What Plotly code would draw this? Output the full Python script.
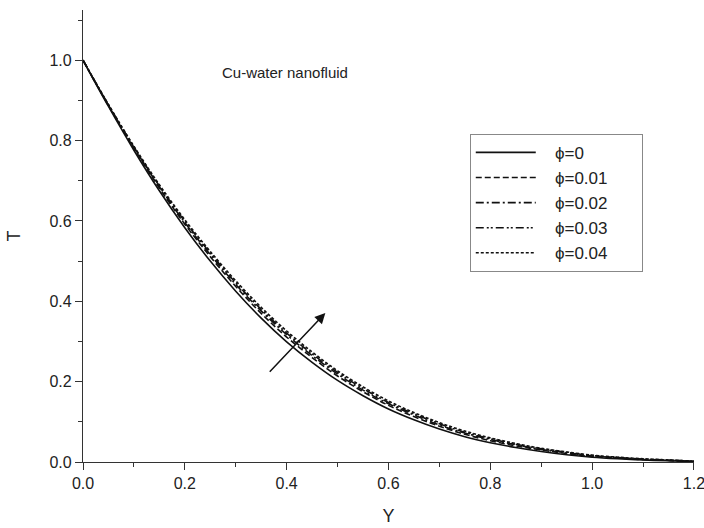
import plotly.graph_objects as go

Y = [0.00, 0.05, 0.10, 0.15, 0.20, 0.25, 0.30, 0.35, 0.40, 0.45, 0.50, 0.55, 0.60,
     0.65, 0.70, 0.75, 0.80, 0.85, 0.90, 0.95, 1.00, 1.05, 1.10, 1.15, 1.20]

T_phi0 = [1.000, 0.885, 0.776, 0.675, 0.583, 0.500, 0.425, 0.358, 0.299, 0.248, 0.203, 0.165, 0.132,
          0.105, 0.082, 0.063, 0.048, 0.036, 0.026, 0.018, 0.012, 0.008, 0.005, 0.003, 0.001]
T_phi001 = [1.000, 0.887, 0.781, 0.682, 0.592, 0.511, 0.437, 0.370, 0.311, 0.260, 0.214, 0.175, 0.141,
            0.113, 0.089, 0.069, 0.053, 0.040, 0.030, 0.021, 0.014, 0.010, 0.006, 0.004, 0.001]
T_phi002 = [1.000, 0.888, 0.783, 0.685, 0.596, 0.516, 0.442, 0.376, 0.317, 0.265, 0.219, 0.179, 0.145,
            0.117, 0.092, 0.072, 0.056, 0.043, 0.031, 0.023, 0.015, 0.011, 0.007, 0.004, 0.002]
T_phi003 = [1.000, 0.889, 0.784, 0.687, 0.599, 0.520, 0.446, 0.380, 0.321, 0.269, 0.223, 0.183, 0.148,
            0.120, 0.095, 0.074, 0.058, 0.044, 0.033, 0.024, 0.016, 0.011, 0.007, 0.005, 0.002]
T_phi004 = [1.000, 0.890, 0.786, 0.690, 0.603, 0.524, 0.451, 0.385, 0.326, 0.274, 0.227, 0.187, 0.152,
            0.123, 0.098, 0.077, 0.060, 0.046, 0.034, 0.025, 0.017, 0.012, 0.008, 0.005, 0.002]

series_names = ["ϕ=0", "ϕ=0.01", "ϕ=0.02", "ϕ=0.03", "ϕ=0.04"]
series_vals = [T_phi0, T_phi001, T_phi002, T_phi003, T_phi004]
dashes = ["solid", "6px,3px", "8px,3px,2px,3px", "8px,3px,2px,2px,2px,3px", "3px,2px"]

x_ticks = [0.0, 0.2, 0.4, 0.6, 0.8, 1.0, 1.2]
y_ticks = [0.0, 0.2, 0.4, 0.6, 0.8, 1.0]

FONT = "Liberation Sans, Arial, sans-serif"
INK = "#222222"
NB = "\u00a0"

fig = go.Figure()
for name, vals, dash in zip(series_names, series_vals, dashes):
    fig.add_trace(go.Scatter(x=Y, y=vals, mode="lines", name=NB * 3 + name + NB * 6,
                             line=dict(color="#111111", width=1.6, dash=dash, shape="spline")))

fig.add_annotation(x=0.397, y=0.97, xref="x", yref="y", text="Cu-water nanofluid",
                   showarrow=False, font=dict(family=FONT, size=15, color=INK))
fig.add_annotation(x=0.476, y=0.371, ax=0.364, ay=0.221, xref="x", yref="y",
                   axref="x", ayref="y", text="", showarrow=True, arrowhead=2,
                   arrowsize=1.4, arrowwidth=1.5, arrowcolor="#111111")

axis_common = dict(showline=True, linecolor="#333333", linewidth=1.2, ticks="outside",
                   ticklen=7, tickwidth=1.2, tickcolor="#333333", showgrid=False,
                   zeroline=False, tickfont=dict(family=FONT, size=16, color=INK),
                   mirror=False, ticklabeloverflow="allow")

fig.update_xaxes(range=[0, 1.2001], tickvals=x_ticks, ticktext=[f"{v:.1f}" for v in x_ticks],
                 minor=dict(dtick=0.1, tick0=0, ticks="outside", ticklen=4, tickcolor="#333333"),
                 title=dict(text="Y", font=dict(family=FONT, size=18, color=INK), standoff=18),
                 **axis_common)
fig.update_yaxes(range=[0, 1.125], tickvals=y_ticks, ticktext=[f"{v:.1f}" for v in y_ticks],
                 minor=dict(dtick=0.1, tick0=0, ticks="outside", ticklen=4, tickcolor="#333333"),
                 title=dict(text="T", font=dict(family=FONT, size=18, color=INK), standoff=24),
                 **axis_common)

fig.update_layout(
    width=704, height=528,
    margin=dict(l=83, r=10, t=10, b=66, autoexpand=False),
    plot_bgcolor="white", paper_bgcolor="white",
    font=dict(family=FONT, color=INK),
    legend=dict(x=0.633, y=0.726, xanchor="left", yanchor="top",
                bordercolor="#888888", borderwidth=1, bgcolor="white",
                font=dict(family=FONT, size=17, color=INK), itemwidth=60,
                tracegroupgap=0),
    showlegend=True,
)

fig.write_html("out.html")
